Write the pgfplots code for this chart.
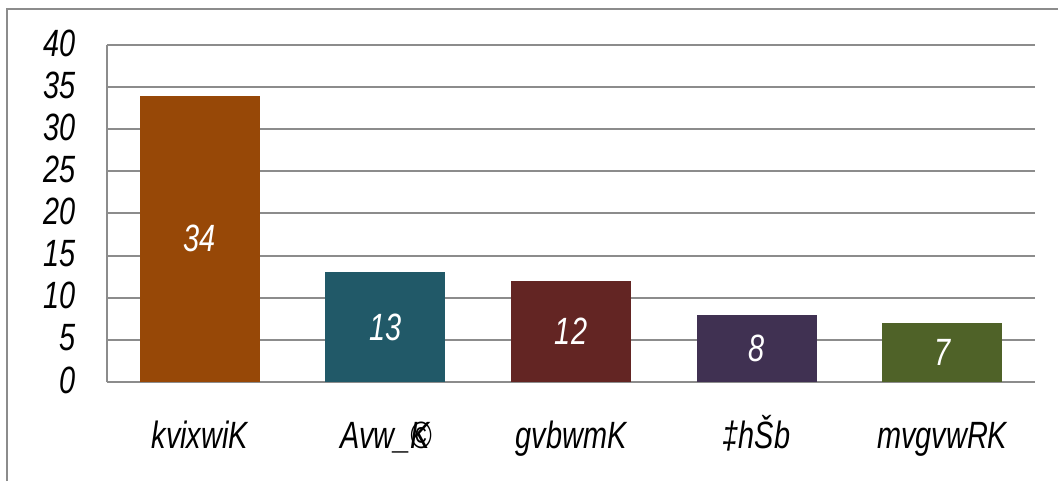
\documentclass[border=0pt]{standalone}
\usepackage{fontspec}
\setmainfont{Liberation Sans}[FakeStretch=0.76]
\usepackage{pgfplots}
\pgfplotsset{compat=1.18}

\definecolor{cOne}{HTML}{974807}
\definecolor{cTwo}{HTML}{215968}
\definecolor{cThree}{HTML}{632523}
\definecolor{cFour}{HTML}{403152}
\definecolor{cFive}{HTML}{4F6228}
\definecolor{gridgray}{HTML}{8C8C8C}

\begin{document}
\begin{tikzpicture}
	% picture size = reference frame (1px = 0.5pt), axis box SW corner at origin
	\useasboundingbox (-53.5pt,-49.5pt) rectangle (475.5pt,191pt);
	\draw[gridgray, line width=1pt] (-50pt,-49.5pt) -- (-50pt,186.5pt) -- (475.5pt,186.5pt);
	\begin{axis}[
		at={(0,0)}, anchor=south west,
		scale only axis, width=464pt, height=168.5pt,
		ybar, bar width=60pt, bar shift=0pt,
		xmin=-0.5, xmax=4.5, ymin=0, ymax=40,
		ytick={0,5,...,40},
		xtick={0,1,2,3,4},
		xticklabels={kvixwiK, Avw\_\rlap{©}K, gvbwmK, ‡hŠb, mvgvwRK},
		axis x line=bottom, axis y line=left,
		axis line style={gridgray, line width=1pt, -},
		ymajorgrids, grid style={gridgray, line width=1pt},
		major tick length=0pt,
		/pgf/number format/assume math mode=true,
		tick label style={font=\fontsize{19}{22}\selectfont\itshape, black},
		yticklabel style={xshift=-12pt, yshift=1pt},
		xticklabel style={anchor=north, text height=14pt, text depth=4pt, yshift=-15.5pt},
		nodes near coords,
		visualization depends on=y/2 \as \halfy,
		every node near coord/.append style={font=\fontsize{19}{22}\selectfont\itshape, white,
			anchor=center, shift={(axis direction cs:0,-\halfy)}},
		]
		\addplot[fill=cOne, draw=none] coordinates {(0,34)};
		\addplot[fill=cTwo, draw=none] coordinates {(1,13)};
		\addplot[fill=cThree, draw=none] coordinates {(2,12)};
		\addplot[fill=cFour, draw=none] coordinates {(3,8)};
		\addplot[fill=cFive, draw=none] coordinates {(4,7)};
	\end{axis}
\end{tikzpicture}
\end{document}
